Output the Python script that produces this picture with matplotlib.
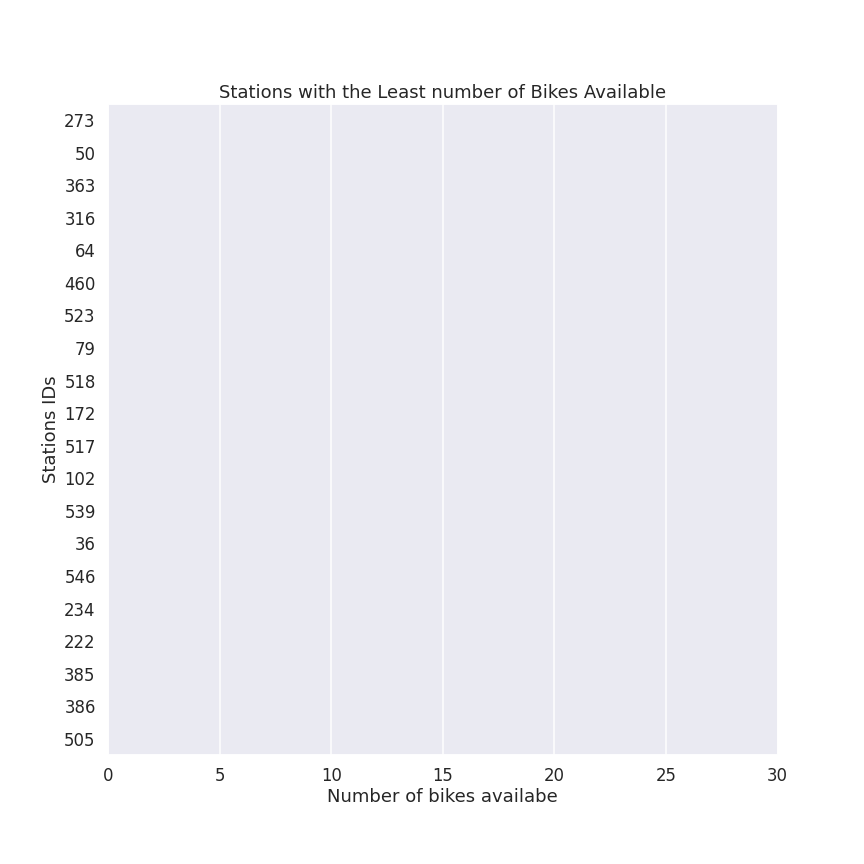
import matplotlib
matplotlib.use("Agg")
import matplotlib.pyplot as plt
import seaborn as sns

stations = ["273", "50", "363", "316", "64", "460", "523", "79", "518", "172",
            "517", "102", "539", "36", "546", "234", "222", "385", "386", "505"]
bikes = [0] * 20

sns.set_theme()
fig, ax = plt.subplots(figsize=(8, 8), dpi=108)
fig.subplots_adjust(left=0.125, right=0.9, top=0.88, bottom=0.126)
sns.barplot(x=bikes, y=stations, orient="h", ax=ax, color="#4c72b0")
ax.set_xlim(0, 30)
ax.tick_params(axis="both", pad=2.2)
ax.set_title("Stations with the Least number of Bikes Available", pad=4)
ax.set_xlabel("Number of bikes availabe", labelpad=2)
ax.set_ylabel("Stations IDs", labelpad=3)
fig.savefig("out.png", dpi=108)
